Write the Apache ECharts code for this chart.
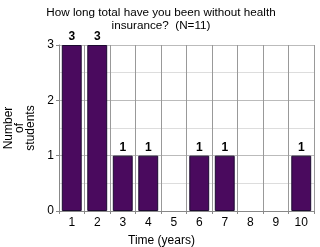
<!DOCTYPE html>
<html>
<head>
<meta charset="utf-8">
<script src="https://cdn.jsdelivr.net/npm/echarts@6/dist/echarts.min.js"></script>
<style>
  html, body { margin: 0; padding: 0; background: #fff; }
  #main { width: 320px; height: 247px; }
</style>
</head>
<body>
<div id="main"></div>
<script>
  // 数据
  var years = ['1', '2', '3', '4', '5', '6', '7', '8', '9', '10'];
  var students = [3, 3, 1, 1, 0, 1, 1, 0, 0, 1];
  var yTicks = [0, 1, 2, 3];

  var myChart = echarts.init(document.getElementById('main'));
  var option = {
    animation: false,
    title: {
      text: 'How long total have you been without health\ninsurance?  (N=11)',
      left: 156,
      textAlign: 'center',
      top: 1,
      textStyle: { fontFamily: 'Liberation Sans', fontSize: 11.7, fontWeight: 'normal', color: '#000', lineHeight: 13 }
    },
    grid: { left: 59, right: 6, top: 45, bottom: 36, outerBoundsMode: 'none', containLabel: false },
    xAxis: {
      type: 'category',
      data: years,
      name: 'Time (years)',
      nameLocation: 'middle',
      nameGap: 24,
      nameTextStyle: { fontFamily: 'Liberation Sans', fontSize: 12, color: '#000', padding: [0, 50, 0, 0] },
      axisLine: { lineStyle: { color: '#888' } },
      axisTick: { show: true, length: 3, lineStyle: { color: '#888' } },
      axisLabel: { fontFamily: 'Liberation Sans', fontSize: 12, color: '#000', margin: 6 },
      splitLine: { show: true, lineStyle: { color: '#999' } }
    },
    yAxis: {
      type: 'value',
      min: yTicks[0],
      max: yTicks[yTicks.length - 1],
      interval: 1,
      name: 'Number\nof\nstudents',
      nameLocation: 'middle',
      nameRotate: 90,
      nameGap: 17,
      nameTextStyle: { fontFamily: 'Liberation Sans', fontSize: 12, color: '#000', lineHeight: 11 },
      axisLine: { show: true, lineStyle: { color: '#888' } },
      axisTick: { show: true, length: 3, lineStyle: { color: '#888' } },
      axisLabel: { fontFamily: 'Liberation Sans', fontSize: 12, color: '#000', margin: 5 },
      splitLine: { show: true, lineStyle: { color: '#bbb' } },
      minorTick: { show: false, splitNumber: 2 },
      minorSplitLine: { show: true, lineStyle: { color: '#ddd' } }
    },
    series: [{
      type: 'bar',
      data: students.map(function (v) { return v === 0 ? null : v; }),
      barWidth: '78%',
      itemStyle: { color: '#4a0a5e', borderColor: '#1c0a30', borderWidth: 1 },
      label: {
        show: true,
        position: 'top',
        distance: 2,
        fontFamily: 'Liberation Sans',
        fontSize: 12,
        fontWeight: 'bold',
        color: '#000'
      }
    }]
  };
  myChart.setOption(option);
</script>
</body>
</html>
